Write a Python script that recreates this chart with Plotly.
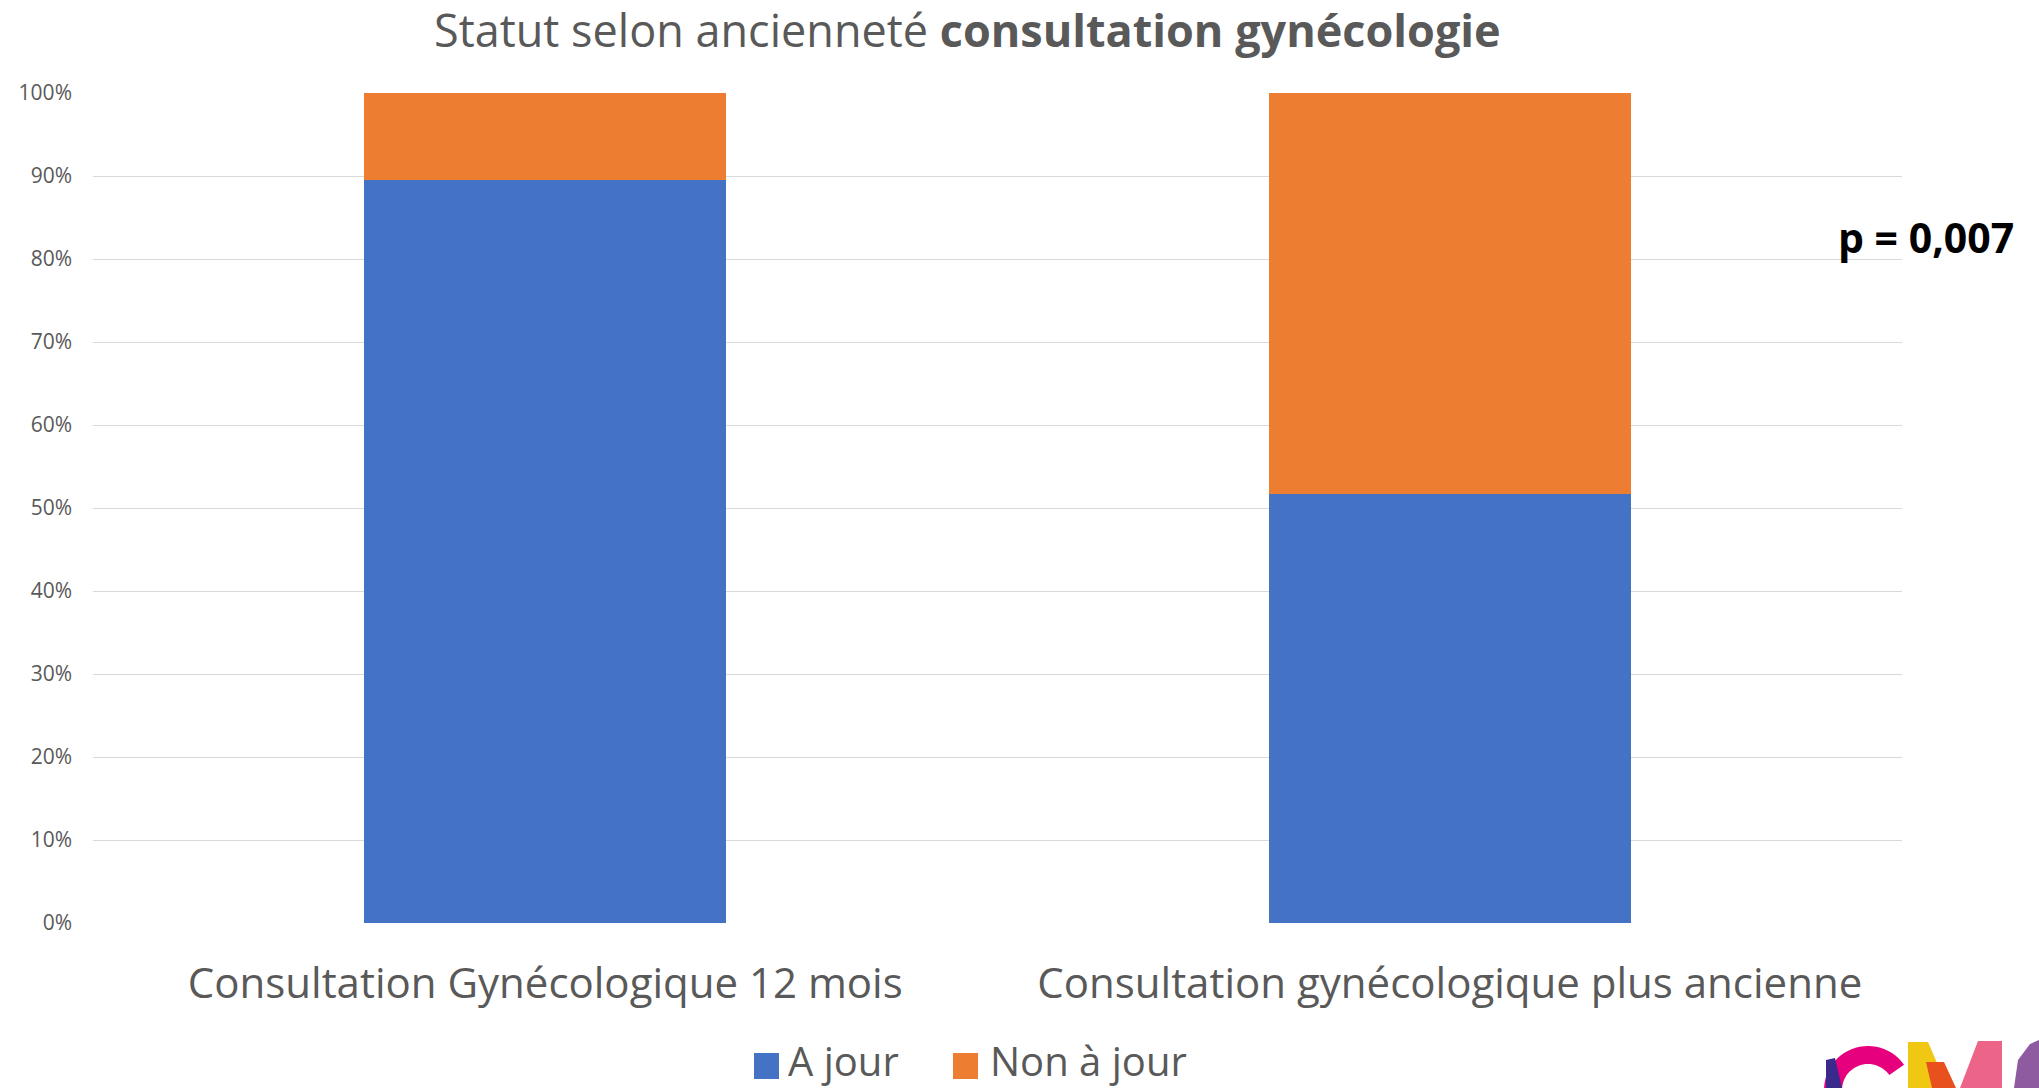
import plotly.graph_objects as go
import math

# ---- data ----
categories = ["Consultation Gynécologique 12 mois", "Consultation gynécologique plus ancienne"]
a_jour = [0.895, 0.517]
non_a_jour = [0.105, 0.483]
series_names = ["A jour", "Non à jour"]
y_ticks = [0, 0.1, 0.2, 0.3, 0.4, 0.5, 0.6, 0.7, 0.8, 0.9, 1.0]
title_regular = "Statut selon ancienneté "
title_bold = "consultation gynécologie"
p_text = "p = 0,007"

BLUE = "#4472C4"
ORANGE = "#ED7D31"
GREY = "#595959"
FONT = "Open Sans"

W, H = 2039, 1088
L, R, T, B = 93, 137, 93, 165
PW, PH = W - L - R, H - T - B

def px(x):
    return (x - L) / PW

def py(y):
    return (H - B - y) / PH

fig = go.Figure()
fig.add_bar(x=categories, y=a_jour, name=series_names[0], marker_color=BLUE,
            marker_line_width=0, showlegend=False)
fig.add_bar(x=categories, y=non_a_jour, name=series_names[1], marker_color=ORANGE,
            marker_line_width=0, showlegend=False)

fig.update_layout(
    width=W, height=H,
    barmode="stack", bargap=0.6,
    margin=dict(l=L, r=R, t=T, b=B, autoexpand=False),
    plot_bgcolor="white", paper_bgcolor="white",
    font=dict(family=FONT, color=GREY),
)
fig.update_yaxes(range=[0, 1], tickvals=y_ticks, tickformat=".0%",
                 showgrid=True, gridcolor="#D9D9D9", gridwidth=1.3,
                 zeroline=False, showline=False, ticks="",
                 tickfont=dict(size=21, color=GREY, family=FONT),
                 ticklabelstandoff=20, fixedrange=True)
fig.update_xaxes(showline=False, ticks="", showgrid=False,
                 tickfont=dict(size=42, color=GREY, family=FONT),
                 ticklabelstandoff=32)

annotations = [
    dict(text=title_regular + "<b>" + title_bold + "</b>", x=px(967), y=py(29),
         xref="paper", yref="paper", xanchor="center", yanchor="middle",
         showarrow=False, font=dict(size=45, color=GREY, family=FONT)),
    dict(text="<b>" + p_text + "</b>", x=px(1926), y=py(237),
         xref="paper", yref="paper", xanchor="center", yanchor="middle",
         showarrow=False, font=dict(size=41, color="black", family=FONT)),
]

shapes = []
legend_items = [(series_names[0], BLUE, 754, 787), (series_names[1], ORANGE, 953, 989)]
for name, col, sq_x, tx in legend_items:
    shapes.append(dict(type="rect", xref="paper", yref="paper",
                       x0=px(sq_x), x1=px(sq_x + 25), y0=py(1079), y1=py(1053),
                       fillcolor=col, line_width=0))
    annotations.append(dict(text=name, x=px(tx), y=py(1060), xref="paper", yref="paper",
                            xanchor="left", yanchor="middle", showarrow=False, borderpad=0,
                            font=dict(size=40, color=GREY, family=FONT)))

# logo fragment (bottom right)
def ppath(points):
    s = ""
    for i, (x, y) in enumerate(points):
        s += ("M" if i == 0 else "L") + f"{px(x):.5f},{py(y):.5f} "
    return s + "Z"

cx, cy, ro, ri = 1868, 1090, 44, 26
arc = []
for k in range(0, 31):
    a = math.radians(200 - k * 5.5)
    arc.append((cx + ro * math.cos(a), cy - ro * math.sin(a)))
for k in range(30, -1, -1):
    a = math.radians(200 - k * 5.5)
    arc.append((cx + ri * math.cos(a), cy - ri * math.sin(a)))
shapes.append(dict(type="path", xref="paper", yref="paper", path=ppath(arc),
                   fillcolor="#E6007E", line_width=0, layer="above"))
shapes.append(dict(type="path", xref="paper", yref="paper",
                   path=ppath([(1826, 1060), (1835, 1058), (1842, 1088), (1826, 1088)]),
                   fillcolor="#3A2A8C", line_width=0, layer="above"))
shapes.append(dict(type="path", xref="paper", yref="paper",
                   path=ppath([(1908, 1042), (1928, 1042), (1948, 1088), (1908, 1088)]),
                   fillcolor="#F0C814", line_width=0, layer="above"))
shapes.append(dict(type="path", xref="paper", yref="paper",
                   path=ppath([(1926, 1062), (1944, 1062), (1956, 1088), (1932, 1088)]),
                   fillcolor="#E8501E", line_width=0, layer="above"))
shapes.append(dict(type="path", xref="paper", yref="paper",
                   path=ppath([(1978, 1041), (2002, 1041), (2002, 1088), (1960, 1088)]),
                   fillcolor="#EC6487", line_width=0, layer="above"))
shapes.append(dict(type="path", xref="paper", yref="paper",
                   path=ppath([(2014, 1088), (2018, 1060), (2030, 1044), (2039, 1040), (2039, 1088)]),
                   fillcolor="#8E5AA0", line_width=0, layer="above"))

fig.update_layout(annotations=annotations, shapes=shapes)
fig.write_html("out.html", config={"displayModeBar": False},
               post_script="document.body.style.margin='0';document.body.style.padding='0';document.body.style.overflow='hidden';")
